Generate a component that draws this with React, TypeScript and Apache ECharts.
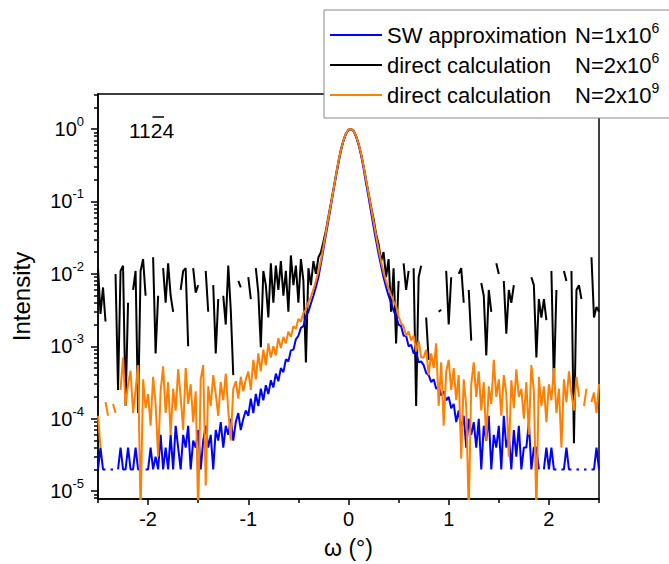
import React, { useEffect, useRef } from "react";
import * as echarts from "echarts";

// ω (degrees) sampling grid
const OMEGA = [
  -2.5, -2.475, -2.45, -2.425, -2.4, -2.375, -2.35, -2.325, -2.3, -2.275,
  -2.25, -2.225, -2.2, -2.175, -2.15, -2.125, -2.1, -2.075, -2.05, -2.025,
  -2, -1.975, -1.95, -1.925, -1.9, -1.875, -1.85, -1.825, -1.8, -1.775,
  -1.75, -1.725, -1.7, -1.675, -1.65, -1.625, -1.6, -1.575, -1.55, -1.525,
  -1.5, -1.475, -1.45, -1.425, -1.4, -1.375, -1.35, -1.325, -1.3, -1.275,
  -1.25, -1.225, -1.2, -1.175, -1.15, -1.125, -1.1, -1.075, -1.05, -1.025,
  -1, -0.975, -0.95, -0.925, -0.9, -0.875, -0.85, -0.825, -0.8, -0.775,
  -0.75, -0.725, -0.7, -0.675, -0.65, -0.625, -0.6, -0.575, -0.55, -0.525,
  -0.5, -0.475, -0.45, -0.425, -0.4, -0.375, -0.35, -0.325, -0.3, -0.275,
  -0.25, -0.225, -0.2, -0.175, -0.15, -0.125, -0.1, -0.075, -0.05, -0.025,
  0, 0.025, 0.05, 0.075, 0.1, 0.125, 0.15, 0.175, 0.2, 0.225,
  0.25, 0.275, 0.3, 0.325, 0.35, 0.375, 0.4, 0.425, 0.45, 0.475,
  0.5, 0.525, 0.55, 0.575, 0.6, 0.625, 0.65, 0.675, 0.7, 0.725,
  0.75, 0.775, 0.8, 0.825, 0.85, 0.875, 0.9, 0.925, 0.95, 0.975,
  1, 1.025, 1.05, 1.075, 1.1, 1.125, 1.15, 1.175, 1.2, 1.225,
  1.25, 1.275, 1.3, 1.325, 1.35, 1.375, 1.4, 1.425, 1.45, 1.475,
  1.5, 1.525, 1.55, 1.575, 1.6, 1.625, 1.65, 1.675, 1.7, 1.725,
  1.75, 1.775, 1.8, 1.825, 1.85, 1.875, 1.9, 1.925, 1.95, 1.975,
  2, 2.025, 2.05, 2.075, 2.1, 2.125, 2.15, 2.175, 2.2, 2.225,
  2.25, 2.275, 2.3, 2.325, 2.35, 2.375, 2.4, 2.425, 2.45, 2.475,
  2.5,
];

// SW approximation N=1x10^6 (blue)
const SW_1E6 = [
  2e-5, 4e-5, 2e-5, 2e-5, null, 2e-5, 2e-5, null, 2e-5, 4e-5,
  2e-5, 2e-5, 4e-5, 2e-5, 2e-5, 4e-5, 2e-5, 2e-5, null, 2e-5,
  2e-5, 4e-5, 2e-5, 3e-5, 2e-5, 6e-5, 2e-5, 4e-5, 2e-5, 6e-5,
  2e-5, 8e-5, 4e-5, 2e-5, 6e-5, 4e-5, 8e-5, 2e-5, 5e-5, 4e-5,
  7e-5, 2e-5, 5e-5, 8e-5, 4e-5, 6e-5, 2e-5, 7e-5, 5e-5, 9e-5,
  4e-5, 8e-5, 6e-5, 1e-4, 5e-5, 9e-5, 1.2e-4, 7e-5, 1e-4, 1.3e-4,
  1.1e-4, 1.9e-4, 1.2e-4, 2.2e-4, 1.5e-4, 2.6e-4, 1.8e-4, 2.9e-4, 2.2e-4, 3.4e-4,
  2.7e-4, 4.2e-4, 3.3e-4, 5e-4, 4.4e-4, 6.6e-4, 6.2e-4, 8.8e-4, 9e-4, 1.25e-3,
  1.4e-3, 1.8e-3, 1.9e-3, 2.6e-3, 3e-3, 3.9e-3, 5e-3, 6.6e-3, 9e-3, 0.014,
  0.022, 0.035, 0.055, 0.088, 0.14, 0.22, 0.34, 0.5, 0.69, 0.86,
  0.97, 1.0, 0.94, 0.79, 0.61, 0.44, 0.29, 0.18, 0.115, 0.072,
  0.045, 0.029, 0.019, 0.013, 0.009, 0.0066, 0.005, 0.004, 0.0031, 0.0026,
  2e-3, 1.9e-3, 1.4e-3, 1.4e-3, 1e-3, 1.05e-3, 8e-4, 8.5e-4, 6e-4, 6.2e-4,
  5.5e-4, 4.3e-4, 4e-4, 3.2e-4, 3.5e-4, 2.6e-4, 2.8e-4, 2.1e-4, 2.4e-4, 1.8e-4,
  2e-4, 1.4e-4, 1.6e-4, 9e-5, 1.3e-4, 7e-5, 1.1e-4, 4e-5, 1e-4, 6e-5,
  9e-5, 4e-5, 1e-4, 2e-5, 8e-5, 5e-5, 1.1e-4, 2e-5, 6e-5, 4e-5,
  8e-5, 2e-5, 1.1e-4, 4e-5, 6e-5, 2e-5, 7e-5, 3e-5, 8e-5, 2e-5,
  4e-5, 4e-5, 9e-5, 2e-5, 4e-5, 4e-5, 2e-5, null, 2e-5, 4e-5,
  2e-5, 4e-5, 2e-5, 2e-5, null, 2e-5, 2e-5, 4e-5, 2e-5, 2e-5,
  null, 2e-5, 2e-5, null, 2e-5, 2e-5, null, 2e-5, 2e-5, 4e-5,
  2e-5,
];

// direct calculation N=2x10^6 (black)
const DIRECT_2E6 = [
  1.2e-2, 2.8e-3, 6.5e-3, 2.2e-3, null, null, null, 1e-2, 2.5e-4, 1.1e-2,
  1.3e-2, 1.5e-4, 4e-3, null, 6e-3, 1.1e-2, 1.2e-4, 1.1e-2, 1.6e-2, 5e-3,
  null, null, 1.7e-2, 8e-4, 5e-3, null, 1.2e-2, 4e-3, 1.4e-2, 5e-3,
  3e-3, null, null, 6e-3, 1.1e-2, 1.2e-2, 1e-3, null, 1.2e-2, 5.5e-3,
  7e-3, null, null, 1.1e-2, 3e-3, null, 7e-3, 8e-4, 4.5e-3, null,
  5e-3, 2e-3, 1.3e-2, 3.2e-3, 4e-4, null, 8e-3, 6.5e-3, null, null,
  9e-3, 4.5e-3, null, 1.2e-2, 5.5e-3, 9.7e-4, 1.1e-2, 7e-3, 2.5e-3, 1.4e-2,
  4e-3, 1.3e-2, 6e-3, 1.5e-2, 5e-3, 1.1e-2, 3e-3, 1.8e-2, 7e-3, 1.3e-2,
  4e-3, 1.6e-2, 8e-3, 6e-4, 1.2e-2, 7e-3, 1.5e-2, 1e-2, 1.7e-2, 2e-2,
  0.028, 0.04, 0.062, 0.096, 0.148, 0.235, 0.36, 0.53, 0.7, 0.87,
  0.98, 1.0, 0.95, 0.81, 0.63, 0.46, 0.31, 0.2, 0.13, 0.085,
  0.058, 0.036, 0.026, 0.015, 0.02, 0.009, 0.016, 3e-3, 1.2e-2, 1.1e-3,
  8e-3, null, 1.4e-2, 6e-3, 1.1e-2, null, 1.2e-2, 1.5e-4, 9e-3, 1.3e-2,
  null, 2.5e-3, 6.5e-4, null, null, null, 3e-3, 3.2e-3, null, 1.1e-2,
  2e-3, 9e-3, null, null, 1e-2, 1.2e-2, 4e-3, null, 6e-3, 1.2e-3,
  null, null, null, 7.5e-3, 5e-3, 7.5e-4, 6e-3, 3e-3, null, 1.4e-2,
  1e-2, null, 8e-3, 1.5e-3, 6e-3, 4e-3, 7e-3, null, null, null,
  null, null, null, 9e-3, 7e-3, 7e-4, 4.5e-3, 2.5e-3, 4.5e-3, 2.3e-3,
  null, 1.1e-2, 3e-4, 6e-3, null, null, 1.1e-2, 8e-3, null, 1.1e-2,
  4.6e-5, 6e-3, 7e-3, 4.5e-3, null, null, null, 1.7e-2, 2.5e-3, 3.5e-3,
  3e-3,
];

// direct calculation N=2x10^9 (orange)
const DIRECT_2E9 = [
  1.1e-4, 4e-5, null, 1.7e-4, 1.1e-4, null, 1.6e-4, 1.2e-4, null, 2.5e-4,
  7e-4, 1.5e-4, 3e-4, 4.6e-4, 1.2e-4, 2.5e-4, 5.5e-4, 5e-6, 3.5e-4, 1.4e-4,
  2.2e-4, 8e-5, 3.8e-4, 1.6e-4, 3e-5, 2.4e-4, 5.3e-4, 1.2e-4, 3.2e-4, 6e-5,
  2.6e-4, 1.3e-4, 4.8e-4, 2e-4, 7e-5, 5e-4, 1.6e-4, 3e-4, 9e-5, 2.4e-4,
  5e-6, 3.5e-4, 5.5e-4, 1.2e-5, 2.8e-4, 1.5e-4, 4e-4, 2.2e-4, 1.1e-4, 3.2e-4,
  1.8e-4, 4.2e-4, 1.3e-4, 5e-5, 2.6e-4, 3.3e-4, 1.9e-4, 3.8e-4, 2.4e-4, 3.5e-4,
  4.5e-4, 2.5e-4, 6.5e-4, 3.5e-4, 8e-4, 4.5e-4, 9e-4, 5.5e-4, 1.1e-3, 7e-4,
  1e-3, 7.5e-4, 1.3e-3, 9.5e-4, 1.35e-3, 1.1e-3, 1.6e-3, 1.35e-3, 1.9e-3, 1.75e-3,
  2.4e-3, 2.2e-3, 2.9e-3, 3.2e-3, 4.1e-3, 4.8e-3, 6.2e-3, 8e-3, 0.0108, 0.0155,
  0.024, 0.038, 0.06, 0.093, 0.145, 0.23, 0.36, 0.52, 0.7, 0.87,
  0.98, 1.0, 0.95, 0.81, 0.63, 0.46, 0.31, 0.2, 0.13, 0.083,
  0.053, 0.034, 0.022, 0.015, 0.0105, 0.0079, 0.0063, 0.0051, 0.0042, 0.0036,
  2.6e-3, 2.1e-3, 1.9e-3, 1.4e-3, 1.6e-3, 1.2e-3, 1.4e-3, 8.5e-4, 1.2e-3, 7e-4,
  7e-4, 9e-4, 4e-4, 8e-4, 5e-4, 1.1e-3, 1.5e-4, 6e-4, 8e-5, 4.5e-4,
  6.5e-4, 2.5e-4, 5e-4, 1.8e-4, 4e-4, 2.8e-5, 3.5e-4, 1.5e-4, 5e-6, 3e-4,
  6e-4, 2e-4, 4.5e-4, 1.3e-4, 3.2e-4, 5e-5, 2.8e-4, 1.6e-4, 6.5e-4, 2e-4,
  3.5e-4, 1.1e-4, 4e-4, 2.2e-4, 3e-5, 3.4e-4, 1.4e-4, 4.8e-4, 2e-4, 2.6e-4,
  1e-4, 3.2e-4, 6e-5, 5.5e-4, 2.4e-4, 5e-6, 3.8e-4, 1.5e-4, 2.8e-4, 9e-5,
  3e-4, 1.8e-4, 5e-4, 1.2e-4, 2.6e-4, 4e-5, 3.5e-4, 1.7e-4, 4.5e-4, 2.2e-4,
  1.3e-4, 3.8e-4, 2e-4, null, 1.5e-4, 2.6e-4, null, 1.7e-4, 2.3e-4, 1.2e-4,
  3e-4,
];

const SERIES_NAMES = [
  "SW approximation N=1x10^6",
  "direct calculation N=2x10^6",
  "direct calculation N=2x10^9",
];
const LEGEND_PARTS = [
  ["SW approximation", "N=1x10", "6"],
  ["direct calculation", "N=2x10", "6"],
  ["direct calculation", "N=2x10", "9"],
];
const COLORS = ["#0000ff", "#000000", "#ff7f00"];

const X_MIN = -2.5;
const X_MAX = 2.5;
const X_MAJOR = [-2, -1, 0, 1, 2];
const X_MINOR = [-2.5, -1.5, -0.5, 0.5, 1.5, 2.5];
const Y_MIN = 7.8e-6;
const Y_MAX = 3.05;
const Y_DECADES = [-6, -5, -4, -3, -2, -1, 0];
const Y_MINOR_MULT = [2, 3, 4, 5, 6, 7, 8, 9];

const FONT = "'Liberation Sans', Arial, Helvetica, sans-serif";

function toLogPairs(vals: (number | null)[]) {
  return OMEGA.map((x, i) => {
    const v = vals[i];
    return [x, v == null ? null : Math.log10(v)];
  });
}

export default function App() {
  const ref = useRef<HTMLDivElement>(null);

  useEffect(() => {
    if (!ref.current) return;
    const chart = echarts.init(ref.current, undefined, { renderer: "svg" });

    const yLo = Math.log10(Y_MIN);
    const yHi = Math.log10(Y_MAX);
    const yMajor = Y_DECADES.filter((d) => d >= yLo && d <= yHi);
    const yMinor: number[] = [];
    Y_DECADES.forEach((d) =>
      Y_MINOR_MULT.forEach((m) => {
        const v = d + Math.log10(m);
        if (v >= yLo && v <= yHi) yMinor.push(v);
      })
    );

    const axisLineStyle = { color: "#000", width: 1.5 };
    const tickStyle = { color: "#000", width: 1.5 };

    const dataSets = [SW_1E6, DIRECT_2E6, DIRECT_2E9];
    const zs = [3, 2, 4];

    chart.setOption({
      animation: false,
      backgroundColor: "#ffffff",
      grid: {
        left: 98,
        right: 70,
        top: 94,
        bottom: 65,
        show: true,
        borderColor: "#000",
        borderWidth: 1.5,
        backgroundColor: "transparent",
      },
      legend: {
        orient: "vertical",
        left: 324,
        top: 10,
        padding: [11, 30, 12, 6],
        itemGap: 5,
        itemWidth: 52,
        itemHeight: 2,
        icon: "rect",
        selectedMode: false,
        backgroundColor: "#ffffff",
        borderColor: "#888",
        borderWidth: 1,
        data: SERIES_NAMES,
        formatter: (name: string) => {
          const p = LEGEND_PARTS[SERIES_NAMES.indexOf(name)];
          return `{a|${p[0]}}{b|${p[1]}}{s|${p[2]}}`;
        },
        textStyle: {
          color: "#000",
          fontFamily: FONT,
          fontSize: 22,
          rich: {
            a: { fontSize: 22, lineHeight: 28, width: 188, fontFamily: FONT, color: "#000" },
            b: { fontSize: 22, lineHeight: 28, fontFamily: FONT, color: "#000" },
            s: { fontSize: 14, lineHeight: 16, verticalAlign: "top", fontFamily: FONT, color: "#000" },
          },
        },
      },
      xAxis: [
        {
          type: "value",
          min: X_MIN,
          max: X_MAX,
          name: "ω (°)",
          nameLocation: "middle",
          nameGap: 37,
          nameTextStyle: { fontSize: 23, color: "#000", fontFamily: FONT },
          axisLine: { show: true, onZero: false, lineStyle: axisLineStyle },
          axisTick: { show: true, customValues: X_MAJOR, length: 6, lineStyle: tickStyle },
          axisLabel: {
            customValues: X_MAJOR,
            fontSize: 20,
            color: "#000",
            margin: 10,
            fontFamily: FONT,
          },
          splitLine: { show: false },
        },
        {
          type: "value",
          min: X_MIN,
          max: X_MAX,
          position: "bottom",
          axisLine: { show: false, onZero: false },
          axisTick: { show: true, customValues: X_MINOR, length: 4, lineStyle: tickStyle },
          axisLabel: { show: false },
          splitLine: { show: false },
        },
      ],
      yAxis: [
        {
          type: "value",
          min: yLo,
          max: yHi,
          name: "Intensity",
          nameLocation: "middle",
          nameGap: 65,
          nameTextStyle: { fontSize: 24, color: "#000", fontFamily: FONT },
          axisLine: { show: true, onZero: false, lineStyle: axisLineStyle },
          axisTick: { show: true, customValues: yMajor, length: 7, lineStyle: tickStyle },
          axisLabel: {
            customValues: yMajor,
            margin: 14,
            color: "#000",
            fontFamily: FONT,
            formatter: (v: number) => `{b|10}{s|${Math.round(v)}}`,
            rich: {
              b: { fontSize: 20, lineHeight: 28, fontFamily: FONT, color: "#000" },
              s: { fontSize: 13, lineHeight: 15, verticalAlign: "top", fontFamily: FONT, color: "#000" },
            },
          },
          splitLine: { show: false },
        },
        {
          type: "value",
          min: yLo,
          max: yHi,
          position: "left",
          axisLine: { show: false, onZero: false },
          axisTick: { show: true, customValues: yMinor, length: 4, lineStyle: tickStyle },
          axisLabel: { show: false },
          splitLine: { show: false },
        },
      ],
      graphic: [
        {
          type: "text",
          x: 129,
          y: 130,
          z: 10,
          style: {
            text: "1124",
            fontSize: 21,
            fontFamily: FONT,
            fill: "#000",
            verticalAlign: "middle",
          },
        },
        {
          type: "line",
          z: 10,
          shape: { x1: 152.5, y1: 117, x2: 164, y2: 117 },
          style: { stroke: "#000", lineWidth: 1.5 },
        },
      ],
      series: SERIES_NAMES.map((name, i) => ({
        name,
        type: "line",
        xAxisIndex: 0,
        yAxisIndex: 0,
        data: toLogPairs(dataSets[i]),
        showSymbol: false,
        symbol: "none",
        connectNulls: false,
        clip: true,
        z: zs[i],
        color: COLORS[i],
        lineStyle: { color: COLORS[i], width: 2 },
        itemStyle: { color: COLORS[i] },
      })),
    });

    return () => chart.dispose();
  }, []);

  return (
    <div
      ref={ref}
      style={{ position: "fixed", left: 0, top: 0, width: 669, height: 564 }}
    />
  );
}
